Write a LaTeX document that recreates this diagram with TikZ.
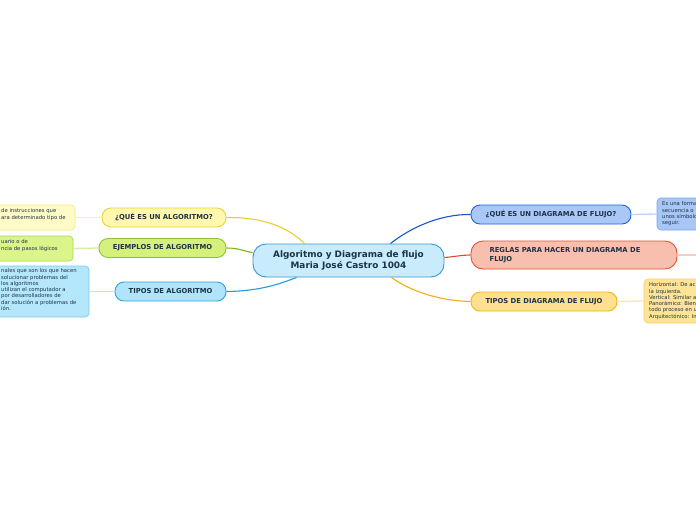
\documentclass[tikz,border=0pt]{standalone}
\usepackage{fontspec}
\setmainfont{DejaVu Sans}
\definecolor{txt}{HTML}{1B3345}
\definecolor{cfill}{HTML}{C8ECFC}\definecolor{cdraw}{HTML}{3B94D9}
\definecolor{yfill}{HTML}{FFF8AE}\definecolor{ydraw}{HTML}{E9D43E}\definecolor{yline}{HTML}{E8CF30}
\definecolor{ylfill}{HTML}{FFFBC6}\definecolor{yldraw}{HTML}{F5E98A}\definecolor{ylline}{HTML}{F8F0B4}
\definecolor{gfill}{HTML}{D6F07C}\definecolor{gdraw}{HTML}{8BC43A}\definecolor{gline}{HTML}{7CB518}
\definecolor{glfill}{HTML}{DCF58A}\definecolor{gldraw}{HTML}{A8D850}\definecolor{glline}{HTML}{D4EDA8}
\definecolor{bfill}{HTML}{B0E4FA}\definecolor{bdraw}{HTML}{2BA4E6}\definecolor{bline}{HTML}{1C9EE0}
\definecolor{blfill}{HTML}{B4E6FC}\definecolor{bldraw}{HTML}{7CCCF2}\definecolor{blline}{HTML}{BCE6F8}
\definecolor{rbfill}{HTML}{A9C8F8}\definecolor{rbdraw}{HTML}{1E64D8}\definecolor{rbline}{HTML}{1656C8}
\definecolor{rblfill}{HTML}{A8C6F6}\definecolor{rbldraw}{HTML}{7EA6EE}\definecolor{rblline}{HTML}{C0D4F8}
\definecolor{rfill}{HTML}{F8BFAE}\definecolor{rdraw}{HTML}{E8502E}\definecolor{rline}{HTML}{E04A28}\definecolor{rlline}{HTML}{F8CCC0}
\definecolor{ofill}{HTML}{FFE08C}\definecolor{odraw}{HTML}{F5B516}\definecolor{oline}{HTML}{F2AE10}
\definecolor{olfill}{HTML}{FFE496}\definecolor{oldraw}{HTML}{F8D070}\definecolor{olline}{HTML}{FBE6B4}
\tikzset{
  central/.style={draw=cdraw,fill=cfill,line width=0.9pt,rounded corners=13pt,minimum width=191pt,minimum height=33pt,inner sep=0pt,align=center,font=\fontsize{8.9}{11.5}\selectfont\bfseries,text=txt},
  branch/.style={line width=0.9pt,rounded corners=9pt,minimum height=19pt,inner sep=0pt,font=\fontsize{6.8}{9}\selectfont\bfseries,text=txt},
  leafbox/.style={line width=0.7pt,rounded corners=4pt,inner sep=0pt},
  leaftext/.style={inner sep=0pt,align=left,anchor=north west,font=\fontsize{5.3}{6.3}\selectfont,text=txt},
  link/.style={line width=1.1pt},
  leaflink/.style={line width=1.3pt}
}
\begin{document}
\begin{tikzpicture}[x=1pt,y=-1pt]
\useasboundingbox (0,0) rectangle (696,520);
\clip (0,0) rectangle (696,520);
\fill[white] (0,0) rectangle (696,520);
% central
\node[central] (c) at (348.5,260.5) {Algoritmo y Diagrama de flujo\\Maria José Castro 1004};
% left branches
\node[branch,draw=ydraw,fill=yfill,minimum width=124pt] (q1) at (164,217.5) {¿QUÉ ES UN ALGORITMO?};
\node[branch,draw=gdraw,fill=gfill,minimum width=127pt] (q2) at (162.5,248) {EJEMPLOS DE ALGORITMO};
\node[branch,draw=bdraw,fill=bfill,minimum width=111pt] (q3) at (170.5,291.5) {TIPOS DE ALGORITMO};
% right branches
\node[branch,draw=rbdraw,fill=rbfill,minimum width=160pt] (r1) at (551,214.5) {¿QUÉ ES UN DIAGRAMA DE FLUJO?};
\node[branch,draw=rdraw,fill=rfill,minimum width=206pt,minimum height=28pt,rounded corners=12pt,align=left] (r2) at (574,255) {\hspace*{2pt}REGLAS PARA HACER UN DIAGRAMA DE\hspace*{20pt}\\\hspace*{2pt}FLUJO};
\node[branch,draw=odraw,fill=ofill,minimum width=146pt] (r3) at (544,301.5) {TIPOS DE DIAGRAMA DE FLUJO};
% left leaves
\node[leafbox,draw=yldraw,fill=ylfill,minimum width=135pt,minimum height=25pt] (l1) at (7.5,217.5) {};
\node[leaftext] (l1t) at (1,208.5) {de instrucciones que\\ara determinado tipo de};
\node[leafbox,draw=gldraw,fill=glfill,minimum width=133pt,minimum height=25pt] (l2) at (6.5,248.5) {};
\node[leaftext] (l2t) at (1,239.5) {uario o de\\ncia de pasos lógicos};
\node[leafbox,draw=bldraw,fill=blfill,minimum width=149pt,minimum height=51pt] (l3) at (14.5,291.5) {};
\node[leaftext] (l3t) at (1,268.5) {nales que son los que hacen\\solucionar problemas del\\los algoritmos\\utilizan el computador a\\por desarrolladores de\\dar solución a problemas de\\ión.};
% right leaves
\node[leafbox,draw=rbldraw,fill=rblfill,minimum width=120pt,minimum height=32pt] (m1) at (717,214) {};
\node[leaftext] (m1t) at (662,201.5) {Es una forma\\secuencia o\\unos símbolo\\seguir.};
\coordinate (m2) at (697,255);
\node[leafbox,draw=oldraw,fill=olfill,minimum width=120pt,minimum height=44pt] (m3) at (704,301) {};
\node[leaftext] (m3t) at (649,282.5) {Horizontal: De ac\\la izquierda.\\Vertical: Similar a\\Panorámico: Bien\\todo proceso en u\\Arquitectónico: In};
% connectors centre -> branches
\draw[link,yline] (q1.east) .. controls (266,217) and (290,229) .. ([xshift=-44pt]c.north);
\draw[link,gline] (q2.east) .. controls (240,248) and (246,252) .. ([yshift=8pt]c.west);
\draw[link,bline] (q3.east) .. controls (262,291) and (282,283) .. ([xshift=-52pt]c.south);
\draw[link,rbline] (r1.west) .. controls (440,214) and (410,228) .. ([xshift=42pt]c.north);
\draw[link,rline] (r2.west) .. controls (462,255) and (452,257) .. ([yshift=3pt]c.east);
\draw[link,oline] (r3.west) .. controls (440,301) and (410,291) .. ([xshift=43pt]c.south);
% connectors branches -> leaves
\draw[leaflink,ylline] (q1.west) -- (l1.east);
\draw[leaflink,glline] (q2.west) -- (l2.east);
\draw[leaflink,blline] (q3.west) -- (l3.east);
\draw[leaflink,rblline] (r1.east) -- (m1.west);
\draw[leaflink,rlline] (r2.east) -- (m2);
\draw[leaflink,olline] (r3.east) -- (m3.west);
\end{tikzpicture}
\end{document}
